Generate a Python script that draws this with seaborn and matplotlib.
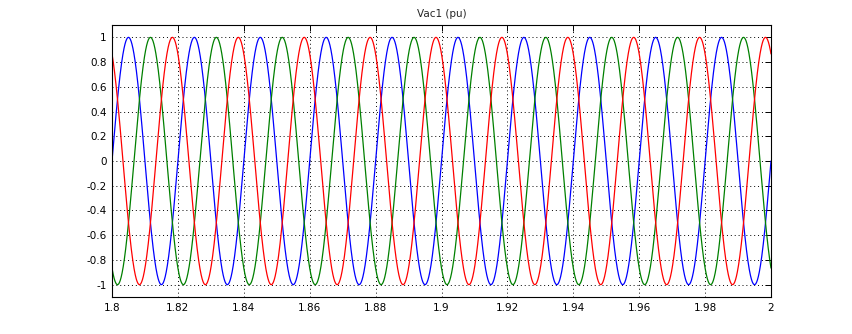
import numpy as np
import pandas as pd
import matplotlib
matplotlib.use("Agg")
import matplotlib.pyplot as plt
import seaborn as sns

# Three-phase AC voltage, per unit
amplitude_pu = 1.0
frequency_hz = 50.0
phase_deg = {"a": 0.0, "b": -120.0, "c": 120.0}
phase_colors = {"a": "#0000ff", "b": "#008000", "c": "#ff0000"}
t_start, t_end, t_step = 1.8, 2.0, 5e-5

x_ticks = [1.8, 1.82, 1.84, 1.86, 1.88, 1.9, 1.92, 1.94, 1.96, 1.98, 2.0]
x_tick_labels = ["1.8", "1.82", "1.84", "1.86", "1.88", "1.9", "1.92", "1.94", "1.96", "1.98", "2"]
y_ticks = [-1, -0.8, -0.6, -0.4, -0.2, 0, 0.2, 0.4, 0.6, 0.8, 1]
y_tick_labels = ["-1", "-0.8", "-0.6", "-0.4", "-0.2", "0", "0.2", "0.4", "0.6", "0.8", "1"]

t = np.arange(t_start, t_end + t_step / 2, t_step)
frames = []
for ph, deg in phase_deg.items():
    v = amplitude_pu * np.sin(2 * np.pi * frequency_hz * t + np.deg2rad(deg))
    frames.append(pd.DataFrame({"t": t, "v": v, "phase": ph}))
df = pd.concat(frames, ignore_index=True)

sns.set_style("white")
plt.rcParams["font.family"] = ["DejaVu Sans"]

fig = plt.figure(figsize=(8.52, 3.34), dpi=100)
ax = fig.add_axes([112 / 852, 37 / 334, 659 / 852, 272 / 334])

sns.lineplot(data=df, x="t", y="v", hue="phase", palette=phase_colors,
             hue_order=["a", "b", "c"], linewidth=0.9, legend=False,
             estimator=None, sort=False, ax=ax)

ax.set_xlim(t_start, t_end)
ax.set_ylim(-1.1, 1.1)
ax.set_xticks(x_ticks)
ax.set_xticklabels(x_tick_labels)
ax.set_yticks(y_ticks)
ax.set_yticklabels(y_tick_labels)
ax.set_xlabel("")
ax.set_ylabel("")
ax.set_title("Vac1 (pu)", fontsize=7.5, pad=6)

ax.grid(True, color="black", linestyle=(0, (1, 3)), linewidth=0.7)
ax.tick_params(direction="in", length=4, width=0.7, labelsize=7.5,
               top=True, right=True, colors="black", pad=4)
for s in ax.spines.values():
    s.set_visible(True)
    s.set_color("black")
    s.set_linewidth(0.8)

fig.savefig("out.png", dpi=100, facecolor="white")
